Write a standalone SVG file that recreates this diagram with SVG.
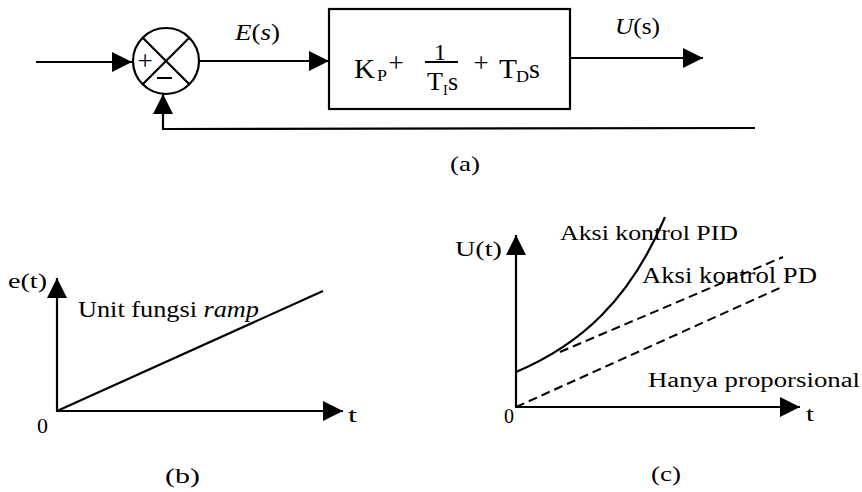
<svg xmlns="http://www.w3.org/2000/svg" width="862" height="492" viewBox="0 0 862 492">
<style>
  .ln{stroke:#000;stroke-width:2.2;fill:none}
  .ds{stroke:#000;stroke-width:2;fill:none;stroke-dasharray:9 5}
  .tx{font-family:"Liberation Serif",serif;fill:#000}
  .it{font-style:italic}
</style>
<defs>
  <marker id="arr" viewBox="0 0 20 20" refX="20" refY="10" markerWidth="20" markerHeight="20" markerUnits="userSpaceOnUse" orient="auto">
    <path d="M0,0 L20,10 L0,20 z" fill="#000"/>
  </marker>
</defs>
<rect width="862" height="492" fill="#fff"/>

<g id="sum">
  <circle cx="166" cy="61" r="33" class="ln"/>
  <line x1="142.7" y1="37.7" x2="189.3" y2="84.3" class="ln"/>
  <line x1="189.3" y1="37.7" x2="142.7" y2="84.3" class="ln"/>
  <text x="145" y="70" class="tx" font-size="27" text-anchor="middle">+</text>
  <line x1="157" y1="78" x2="172" y2="78" stroke="#000" stroke-width="2"/>
</g>

<g id="pid">
  <rect x="329" y="9" width="241" height="100" class="ln"/>
  <text x="354" y="78" class="tx" font-size="28" textLength="21" lengthAdjust="spacingAndGlyphs">K</text>
  <text x="377" y="81" class="tx" font-size="16" textLength="10" lengthAdjust="spacingAndGlyphs">P</text>
  <text x="396" y="72" class="tx" font-size="27" text-anchor="middle">+</text>
  <text x="440" y="60" class="tx" font-size="24" text-anchor="middle">1</text>
  <line x1="425" y1="62" x2="458" y2="62" stroke="#000" stroke-width="1.8"/>
  <text x="427" y="90" class="tx" font-size="26" textLength="16" lengthAdjust="spacingAndGlyphs">T</text>
  <text x="443" y="95" class="tx" font-size="14">I</text>
  <text x="448" y="90" class="tx" font-size="26">s</text>
  <text x="481" y="72" class="tx" font-size="27" text-anchor="middle">+</text>
  <text x="499" y="78" class="tx" font-size="28" textLength="18" lengthAdjust="spacingAndGlyphs">T</text>
  <text x="516" y="82" class="tx" font-size="17" textLength="13" lengthAdjust="spacingAndGlyphs">D</text>
  <text x="529" y="78" class="tx" font-size="28">s</text>
</g>

<g id="connectors">
  <line x1="36" y1="62" x2="132" y2="62" class="ln" marker-end="url(#arr)"/>
  <line x1="199" y1="61" x2="329" y2="61" class="ln" marker-end="url(#arr)"/>
  <line x1="570" y1="58" x2="703" y2="58" class="ln" marker-end="url(#arr)"/>
  <polyline points="755,128 163,129 163,94" class="ln" marker-end="url(#arr)"/>
</g>

<g id="labels-a">
  <text x="235" y="40" class="tx" font-size="23" textLength="45" lengthAdjust="spacingAndGlyphs"><tspan class="it">E</tspan>(<tspan class="it">s</tspan>)</text>
  <text x="615" y="34" class="tx" font-size="24" textLength="45" lengthAdjust="spacingAndGlyphs"><tspan class="it">U</tspan>(s)</text>
  <text x="450" y="171" class="tx" font-size="22" textLength="30" lengthAdjust="spacingAndGlyphs">(a)</text>
</g>

<g id="graph-b">
  <line x1="57" y1="411" x2="57" y2="278" class="ln" marker-end="url(#arr)"/>
  <line x1="56" y1="411" x2="343" y2="411" class="ln" marker-end="url(#arr)"/>
  <line x1="57" y1="411" x2="323" y2="291" class="ln"/>
  <text x="8" y="288" class="tx" font-size="22" textLength="39" lengthAdjust="spacingAndGlyphs">e(t)</text>
  <text x="78" y="317" class="tx" font-size="24" textLength="181" lengthAdjust="spacingAndGlyphs">Unit fungsi <tspan class="it">ramp</tspan></text>
  <text x="37" y="433" class="tx" font-size="20" textLength="11" lengthAdjust="spacingAndGlyphs">0</text>
  <text x="348" y="422" class="tx" font-size="20" textLength="9" lengthAdjust="spacingAndGlyphs">t</text>
  <text x="165" y="483" class="tx" font-size="22" textLength="35" lengthAdjust="spacingAndGlyphs">(b)</text>
</g>

<g id="graph-c">
  <line x1="516" y1="407" x2="516" y2="235" class="ln" marker-end="url(#arr)"/>
  <line x1="515" y1="407" x2="800" y2="407" class="ln" marker-end="url(#arr)"/>
  <path d="M516,372 C580,345 630,300 665,217" class="ln"/>
  <line x1="560" y1="352" x2="783" y2="257" class="ds"/>
  <line x1="516" y1="407" x2="782" y2="287" class="ds"/>
  <text x="455" y="256" class="tx" font-size="22" textLength="47" lengthAdjust="spacingAndGlyphs">U(t)</text>
  <text x="560" y="240" class="tx" font-size="22" textLength="178" lengthAdjust="spacingAndGlyphs">Aksi kontrol PID</text>
  <text x="642" y="283" class="tx" font-size="23" textLength="175" lengthAdjust="spacingAndGlyphs">Aksi kontrol PD</text>
  <text x="648" y="387" class="tx" font-size="20" textLength="212" lengthAdjust="spacingAndGlyphs">Hanya proporsional</text>
  <text x="504" y="423" class="tx" font-size="20" textLength="10" lengthAdjust="spacingAndGlyphs">0</text>
  <text x="806" y="421" class="tx" font-size="20" textLength="8" lengthAdjust="spacingAndGlyphs">t</text>
  <text x="651" y="481" class="tx" font-size="22" textLength="30" lengthAdjust="spacingAndGlyphs">(c)</text>
</g>
</svg>
